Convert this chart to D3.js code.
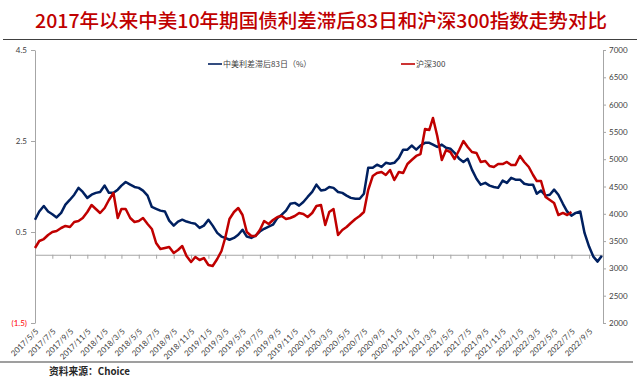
<!DOCTYPE html>
<html><head><meta charset="utf-8">
<script src="https://cdn.jsdelivr.net/npm/d3@7"></script>
<style>body{margin:0;background:#fff;} svg{display:block;}</style>
</head><body>
<svg id="chart" width="640" height="379"></svg>
<script>
const titleText = "2017年以来中美10年期国债利差滞后83日和沪深300指数走势对比";
const legendLabels = ["中美利差滞后83日（%）", "沪深300"];
const sourceText = "资料来源：Choice";

const dates = [
"2017-05-05","2017-05-20","2017-06-05","2017-06-20","2017-07-05","2017-07-20","2017-08-05","2017-08-20","2017-09-05","2017-09-20","2017-10-05","2017-10-20","2017-11-05","2017-11-20","2017-12-05","2017-12-20",
"2018-01-05","2018-01-20","2018-02-05","2018-02-20","2018-03-05","2018-03-20","2018-04-05","2018-04-20","2018-05-05","2018-05-20","2018-06-05","2018-06-20","2018-07-05","2018-07-20","2018-08-05","2018-08-20","2018-09-05","2018-09-20","2018-10-05","2018-10-20","2018-11-05","2018-11-20","2018-12-05","2018-12-20",
"2019-01-05","2019-01-20","2019-02-05","2019-02-20","2019-03-05","2019-03-20","2019-04-05","2019-04-20","2019-05-05","2019-05-20","2019-06-05","2019-06-20","2019-07-05","2019-07-20","2019-08-05","2019-08-20","2019-09-05","2019-09-20","2019-10-05","2019-10-20","2019-11-05","2019-11-20","2019-12-05","2019-12-20",
"2020-01-05","2020-01-20","2020-02-05","2020-02-20","2020-03-05","2020-03-20","2020-04-05","2020-04-20","2020-05-05","2020-05-20","2020-06-05","2020-06-20","2020-07-05","2020-07-20","2020-08-05","2020-08-20","2020-09-05","2020-09-20","2020-10-05","2020-10-20","2020-11-05","2020-11-20","2020-12-05","2020-12-20",
"2021-01-05","2021-01-20","2021-02-05","2021-02-20","2021-03-05","2021-03-20","2021-04-05","2021-04-20","2021-05-05","2021-05-20","2021-06-05","2021-06-20","2021-07-05","2021-07-20","2021-08-05","2021-08-20","2021-09-05","2021-09-20","2021-10-05","2021-10-20","2021-11-05","2021-11-20","2021-12-05","2021-12-20",
"2022-01-05","2022-01-20","2022-02-05","2022-02-20","2022-03-05","2022-03-20","2022-04-05","2022-04-20","2022-05-05","2022-05-20","2022-06-05","2022-06-20","2022-07-05","2022-07-20","2022-08-05","2022-08-20","2022-09-05","2022-09-20","2022-10-05","2022-10-20"
];

// 中美利差滞后83日（%） — left axis
const spreadLag83 = [
0.77,0.95,1.07,0.95,0.89,0.82,0.92,1.10,1.21,1.32,
1.47,1.38,1.25,1.32,1.36,1.38,1.52,1.36,1.36,1.43,
1.52,1.60,1.54,1.49,1.47,1.41,1.30,1.05,1.01,0.97,
0.95,0.75,0.64,0.73,0.77,0.73,0.70,0.68,0.59,0.64,
0.77,0.64,0.48,0.40,0.37,0.33,0.37,0.44,0.55,0.40,
0.37,0.42,0.51,0.57,0.62,0.66,0.81,0.88,0.97,1.12,
1.14,1.08,1.16,1.27,1.38,1.54,1.41,1.43,1.49,1.47,
1.38,1.36,1.30,1.25,1.23,1.23,1.34,1.91,1.91,1.98,
1.93,2.02,2.00,2.02,2.13,2.31,2.31,2.40,2.31,2.40,
2.46,2.46,2.42,2.37,2.42,2.35,2.33,2.24,2.11,2.04,
2.11,1.87,1.67,1.54,1.58,1.52,1.49,1.47,1.63,1.58,
1.69,1.65,1.65,1.56,1.54,1.54,1.34,1.41,1.30,1.32,
1.43,1.32,1.12,0.95,0.86,0.92,0.95,0.48,0.18,-0.04,
-0.15,-0.02
];

// 沪深300 — right axis
const csi300 = [
3374,3502,3538,3612,3667,3685,3740,3777,3758,3850,
3868,3923,4033,4161,4088,4015,4106,4253,4381,3923,
4088,4088,3923,3850,3868,3923,3813,3722,3465,3355,
3374,3392,3282,3337,3410,3227,3117,3209,3154,3190,
3062,3044,3172,3319,3557,3905,4033,4106,3978,3667,
3593,3593,3703,3868,3813,3886,3941,3960,3905,3923,
3960,4015,3996,3941,4015,4143,4161,3795,4033,4088,
3612,3703,3758,3832,3905,3960,4033,4436,4692,4747,
4766,4711,4802,4619,4766,4747,4912,4985,5059,5095,
5553,5535,5755,5425,4985,5168,5132,5004,5168,5333,
5223,5132,5114,4949,4967,4875,4857,4912,4912,4949,
4894,4894,5059,4949,4857,4711,4601,4601,4308,4253,
4198,3978,4015,3978,4033
];

const xTickLabels = [
"2017/5/5","2017/7/5","2017/9/5","2017/11/5","2018/1/5","2018/3/5","2018/5/5","2018/7/5","2018/9/5","2018/11/5",
"2019/1/5","2019/3/5","2019/5/5","2019/7/5","2019/9/5","2019/11/5","2020/1/5","2020/3/5","2020/5/5","2020/7/5",
"2020/9/5","2020/11/5","2021/1/5","2021/3/5","2021/5/5","2021/7/5","2021/9/5","2021/11/5","2022/1/5","2022/3/5",
"2022/5/5","2022/7/5","2022/9/5"
];
const leftTicks = [4.5, 2.5, 0.5, -1.5];
const rightTicks = [2000,2500,3000,3500,4000,4500,5000,5500,6000,6500,7000];
const xDomain = ["2017-05-05","2022-10-24"];

const BLUE = "#002060", RED = "#c00000", AXIS = "#a6a6a6", TXT = "#404040";
const parse = d3.timeParse("%Y-%m-%d");
const parseTick = d3.timeParse("%Y/%m/%d");

const svg = d3.select("#chart");
const x = d3.scaleTime().domain(xDomain.map(parse)).range([35, 603]);
const yL = d3.scaleLinear().domain([-1.5, 4.5]).range([323, 50]);
const yR = d3.scaleLinear().domain([2000, 7000]).range([323, 50]);

// title
svg.append("text").attr("x", 35).attr("y", 28)
  .attr("textLength", 572).attr("lengthAdjust", "spacingAndGlyphs")
  .style("font-family", "'Noto Sans CJK SC'").style("font-size", "19px").style("font-weight", 500)
  .attr("fill", RED).text(titleText);
svg.append("line").attr("x1", 3).attr("x2", 637).attr("y1", 39.5).attr("y2", 39.5)
  .attr("stroke", "#404040").attr("stroke-width", 1.2);

// left axis
const gL = svg.append("g").attr("transform", "translate(35,0)")
  .call(d3.axisLeft(yL).tickValues(leftTicks).tickSize(4).tickSizeOuter(0)
    .tickFormat(d => d < 0 ? "(" + Math.abs(d).toFixed(1) + ")" : d.toFixed(1)));
gL.selectAll("path,line").attr("stroke", AXIS);
gL.selectAll("text").attr("x", -8)
  .style("font-family", "Lato").style("font-size", "8px")
  .attr("fill", d => d < 0 ? "#ff0000" : TXT);

// right axis
const gR = svg.append("g").attr("transform", "translate(603,0)")
  .call(d3.axisRight(yR).tickValues(rightTicks).tickSize(3).tickSizeOuter(0).tickFormat(d3.format("d")));
gR.selectAll("path,line").attr("stroke", AXIS);
gR.selectAll("text").attr("x", 6)
  .style("font-family", "Lato").style("font-size", "8px").attr("fill", TXT);

// x axis at zero
const tickDates = xTickLabels.map(parseTick);
const gX = svg.append("g").attr("transform", `translate(0,${yL(0)})`)
  .call(d3.axisBottom(x).tickValues(tickDates).tickSize(4).tickSizeOuter(0).tickFormat(""));
gX.selectAll("path,line").attr("stroke", AXIS);

svg.append("g").selectAll("text").data(xTickLabels).join("text")
  .attr("transform", d => `translate(${x(parseTick(d)) + 4},332) rotate(-45)`)
  .attr("text-anchor", "end")
  .style("font-family", "Lato").style("font-size", "8px").attr("fill", TXT)
  .text(d => d);

// series
const blueData = dates.map((d, i) => ({date: parse(d), v: spreadLag83[i]})).filter(d => d.v != null);
const redData = csi300.map((v, i) => ({date: parse(dates[i]), v}));

svg.append("path").datum(blueData)
  .attr("fill", "none").attr("stroke", BLUE).attr("stroke-width", 2.5).attr("stroke-linejoin", "round")
  .attr("d", d3.line().x(d => x(d.date)).y(d => yL(d.v)));
svg.append("path").datum(redData)
  .attr("fill", "none").attr("stroke", RED).attr("stroke-width", 2.5).attr("stroke-linejoin", "round")
  .attr("d", d3.line().x(d => x(d.date)).y(d => yR(d.v)));

// legend
const legend = [
  {label: legendLabels[0], color: BLUE, x: 208},
  {label: legendLabels[1], color: RED, x: 401}
];
const lg = svg.append("g").selectAll("g").data(legend).join("g")
  .attr("transform", d => `translate(${d.x},64)`);
lg.append("line").attr("x1", 0).attr("x2", 14).attr("stroke", d => d.color).attr("stroke-width", 1.6);
lg.append("text").attr("x", 15).attr("dy", "0.35em")
  .style("font-family", "'Noto Sans CJK SC'").style("font-size", "8px").attr("fill", TXT)
  .text(d => d.label);

// footer
svg.append("line").attr("x1", 0).attr("x2", 633).attr("y1", 362).attr("y2", 362)
  .attr("stroke", "#7f7f7f").attr("stroke-width", 1.6);
svg.append("text").attr("x", 49).attr("y", 375)
  .attr("textLength", 81).attr("lengthAdjust", "spacingAndGlyphs")
  .style("font-family", "'Noto Sans CJK SC'").style("font-size", "10px").style("font-weight", 700)
  .attr("fill", "#262626").text(sourceText);
</script>
</body></html>
